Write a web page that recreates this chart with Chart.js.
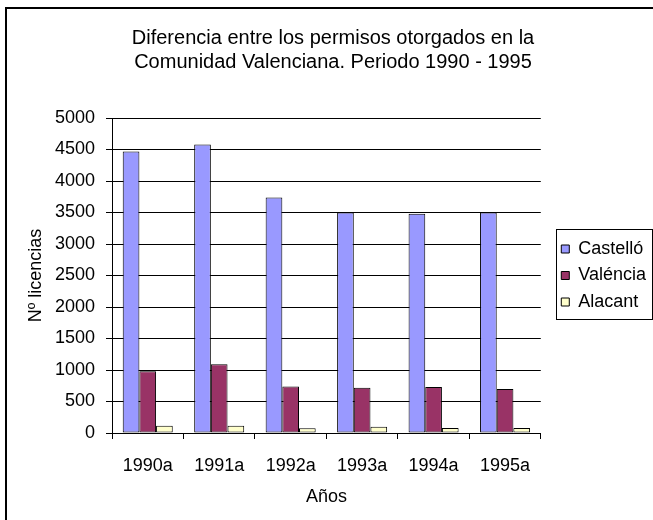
<!DOCTYPE html>
<html>
<head>
<meta charset="utf-8">
<script src="https://cdn.jsdelivr.net/npm/chart.js@4"></script>
<style>
  html, body { margin: 0; padding: 0; background: #fff; }
  #wrap { width: 653px; height: 520px; }
</style>
</head>
<body>
<div id="wrap"><canvas id="permisosChart" width="653" height="520"></canvas></div>
<script>
const years = ["1990a", "1991a", "1992a", "1993a", "1994a", "1995a"];
const castello = [4470, 4580, 3740, 3500, 3480, 3500];
const valencia = [980, 1090, 740, 720, 730, 700];
const alacant = [115, 115, 75, 100, 80, 80];

const FONT = "'Liberation Sans', Arial, sans-serif";
const LEGEND_GAP = 12;

// outer frame (only top and left edges are visible in the window)
const framePlugin = {
  id: "frame",
  afterDraw(chart) {
    const ctx = chart.ctx;
    ctx.save();
    ctx.strokeStyle = "#000";
    ctx.lineWidth = 2;
    ctx.beginPath();
    ctx.moveTo(6, 600);
    ctx.lineTo(6, 8);
    ctx.lineTo(700, 8);
    ctx.stroke();
    ctx.restore();
  },
};

// box round the legend
const legendBoxPlugin = {
  id: "legendBox",
  afterDraw(chart) {
    const boxes = chart.legend && chart.legend.legendHitBoxes;
    if (!boxes || !boxes.length) return;
    const ctx = chart.ctx;
    const left = Math.min(...boxes.map((b) => b.left)) - 5;
    const top = Math.min(...boxes.map((b) => b.top)) - 11;
    const bottom = Math.max(...boxes.map((b) => b.top + b.height)) + 8;
    ctx.save();
    ctx.strokeStyle = "#000";
    ctx.lineWidth = 1;
    ctx.strokeRect(Math.round(left) + 0.5, Math.round(top) + 0.5, 96, Math.round(bottom - top));
    ctx.restore();
  },
};

new Chart(document.getElementById("permisosChart"), {
  type: "bar",
  data: {
    labels: years,
    datasets: [
      { label: "Castelló", data: castello, backgroundColor: "#9999FF" },
      { label: "Valéncia", data: valencia, backgroundColor: "#993366" },
      { label: "Alacant", data: alacant, backgroundColor: "#FFFFCC" },
    ].map((d) => ({
      ...d,
      borderColor: "#000",
      borderWidth: 1,
      borderSkipped: false,
      categoryPercentage: 0.7,
      barPercentage: 1,
    })),
  },
  options: {
    responsive: false,
    animation: false,
    layout: { padding: { left: 10, right: -3, top: 0, bottom: 11 } },
    plugins: {
      title: {
        display: true,
        text: [
          "Diferencia entre los permisos otorgados en la",
          "Comunidad Valenciana. Periodo 1990 - 1995",
        ],
        color: "#000",
        font: { family: FONT, size: 20, weight: "normal", lineHeight: 1.2 },
        padding: { top: 26, bottom: 44 },
      },
      legend: {
        position: "right",
        fullSize: false,
        labels: {
          color: "#000",
          font: { family: FONT, size: 18 },
          boxWidth: 8,
          boxHeight: 8,
          padding: 8.5,
        },
      },
      tooltip: { enabled: false },
    },
    scales: {
      x: {
        grid: {
          drawOnChartArea: false,
          drawTicks: true,
          tickLength: 6,
          color: "#000",
        },
        border: { color: "#000" },
        ticks: {
          color: "#000",
          font: { family: FONT, size: 18 },
          padding: 16,
          maxRotation: 0,
        },
        title: {
          display: true,
          text: "Años",
          color: "#000",
          font: { family: FONT, size: 18 },
          padding: { top: 9, bottom: 1 },
        },
        afterFit: (scale) => {
          scale.height = 76;
        },
      },
      y: {
        min: 0,
        max: 5000,
        ticks: {
          stepSize: 500,
          color: "#000",
          font: { family: FONT, size: 18 },
          padding: 11,
          callback: (v) => String(v),
        },
        grid: { color: "#000", tickLength: 6 },
        border: { color: "#000" },
        title: {
          display: true,
          text: "Nº licencias",
          color: "#000",
          font: { family: FONT, size: 18 },
          padding: { top: 15, bottom: 4 },
        },
        afterFit: (scale) => {
          scale.width = 102;
        },
      },
      // empty axis that only keeps a gap between the plot and the legend
      gap: {
        type: "linear",
        position: "right",
        grid: { display: false },
        border: { display: false },
        ticks: { display: false },
        afterFit: (scale) => {
          scale.width = LEGEND_GAP;
        },
      },
    },
  },
  plugins: [framePlugin, legendBoxPlugin],
});
</script>
</body>
</html>
